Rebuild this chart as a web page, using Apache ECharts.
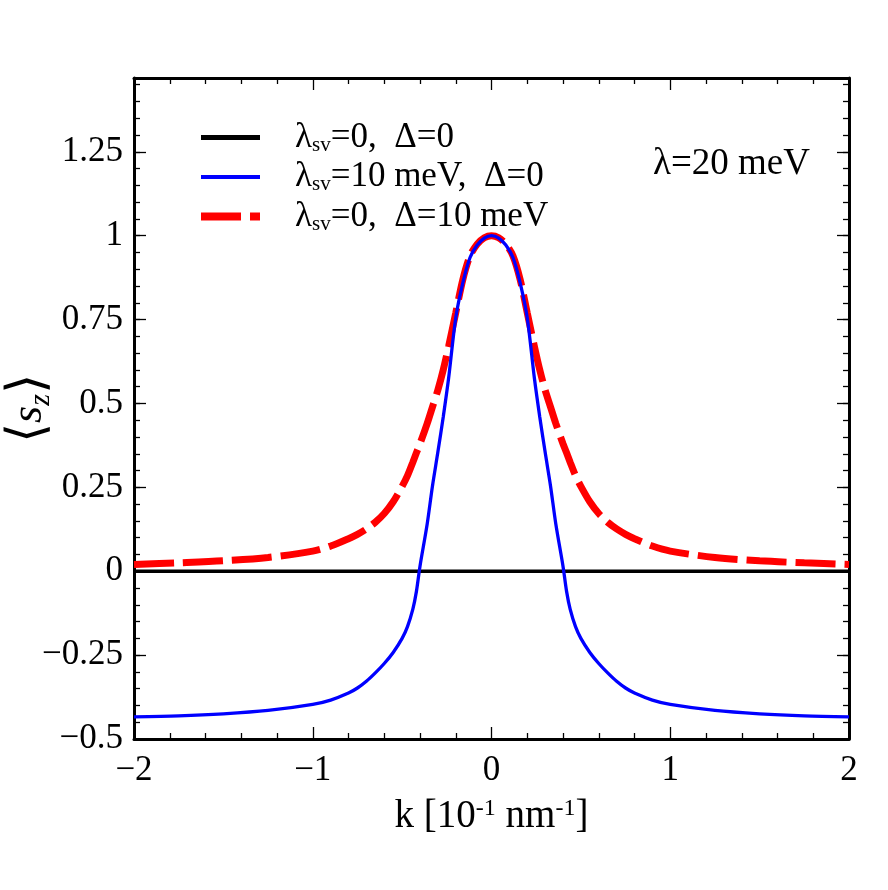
<!DOCTYPE html>
<html lang="en">
<head>
    <meta charset="UTF-8">
    <title>Spin polarization</title>
    <script src="https://cdn.jsdelivr.net/npm/echarts@6/dist/echarts.min.js"></script>
</head>
<body style="margin:0">
    <div id="main" style="width: 888px;height: 890px"></div>
    <script type="application/javascript">
        // k values, units of 10^-1 nm^-1
        var kVals = [-2, -1.75, -1.5, -1.25, -1, -0.9, -0.8, -0.75, -0.7, -0.65, -0.6, -0.55, -0.5, -0.47, -0.44, -0.42, -0.4, -0.36, -0.33, -0.3, -0.27, -0.24, -0.2, -0.16, -0.12, -0.08, -0.04, 0,
                     0.04, 0.08, 0.12, 0.16, 0.2, 0.24, 0.27, 0.3, 0.33, 0.36, 0.4, 0.42, 0.44, 0.47, 0.5, 0.55, 0.6, 0.65, 0.7, 0.75, 0.8, 0.9, 1, 1.25, 1.5, 1.75, 2];
        // lambda_sv = 0, Delta = 0
        var szZero = [0, 0, 0, 0, 0, 0, 0, 0, 0, 0, 0, 0, 0, 0, 0, 0, 0, 0, 0, 0, 0, 0, 0, 0, 0, 0, 0, 0,
                      0, 0, 0, 0, 0, 0, 0, 0, 0, 0, 0, 0, 0, 0, 0, 0, 0, 0, 0, 0, 0, 0, 0, 0, 0, 0, 0];
        // lambda_sv = 10 meV, Delta = 0
        var szSv = [-0.434, -0.431, -0.425, -0.415, -0.397, -0.384, -0.363, -0.348, -0.328, -0.303, -0.275, -0.242, -0.2, -0.165, -0.113, -0.06, 0.015, 0.14, 0.255, 0.355, 0.46, 0.575, 0.755, 0.86, 0.935, 0.972, 0.993, 1.0,
                    0.993, 0.972, 0.935, 0.86, 0.755, 0.575, 0.46, 0.355, 0.255, 0.14, 0.015, -0.06, -0.113, -0.165, -0.2, -0.242, -0.275, -0.303, -0.328, -0.348, -0.363, -0.384, -0.397, -0.415, -0.425, -0.431, -0.434];
        // lambda_sv = 0, Delta = 10 meV
        var szDelta = [0.02, 0.025, 0.031, 0.041, 0.06, 0.075, 0.097, 0.11, 0.126, 0.146, 0.172, 0.207, 0.253, 0.285, 0.325, 0.353, 0.38, 0.44, 0.49, 0.54, 0.6, 0.67, 0.77, 0.87, 0.94, 0.975, 0.994, 1.0,
                       0.994, 0.975, 0.94, 0.87, 0.77, 0.67, 0.6, 0.54, 0.49, 0.44, 0.38, 0.353, 0.325, 0.285, 0.253, 0.207, 0.172, 0.146, 0.126, 0.11, 0.097, 0.075, 0.06, 0.041, 0.031, 0.025, 0.02];
        var seriesNames = ['λsv=0,  Δ=0', 'λsv=10 meV,  Δ=0', 'λsv=0,  Δ=10 meV'];
        var yTicks = [-0.5, -0.25, 0, 0.25, 0.5, 0.75, 1, 1.25];

        var FONT = 'Liberation Serif';
        var myChart = echarts.init(document.getElementById("main"));

        function pairs(ys) {
            var out = [];
            for (var i = 0; i < kVals.length; i++) out.push([kVals[i], ys[i]]);
            return out;
        }
        function minus(s) { return String(s).replace('-', '\u2212'); }

        var yMin = -0.5, yMax = 1.47;

        function yAxisOf(pos, major, labels) {
            return {
                type: 'value', position: pos, min: yMin, max: yMax,
                interval: major ? 0.25 : 0.05,
                axisLine: { show: major, onZero: false, lineStyle: { color: '#000', width: 3 } },
                axisTick: { show: true, inside: true, length: major ? 12 : 6, lineStyle: { color: '#000', width: 1.3 } },
                axisLabel: {
                    show: labels, margin: 11, fontFamily: FONT, fontSize: 35, color: '#000',
                    formatter: function (v) {
                        for (var i = 0; i < yTicks.length; i++) {
                            if (Math.abs(v - yTicks[i]) < 1e-6) return minus(yTicks[i]);
                        }
                        return '';
                    }
                },
                splitLine: { show: false },
                name: labels ? '{b|\u27E8}{i|s}{z|z}{b|\u27E9}' : '',
                nameLocation: 'middle', nameRotate: 90, nameGap: 78, nameMoveOverlap: false,
                nameTextStyle: {
                    rich: {
                        b: { fontFamily: FONT, fontSize: 52, color: '#000', lineHeight: 54 },
                        i: { fontFamily: FONT, fontStyle: 'italic', fontSize: 44, color: '#000', lineHeight: 54 },
                        z: { fontFamily: FONT, fontStyle: 'italic', fontSize: 30, color: '#000', lineHeight: 30, verticalAlign: 'bottom' }
                    }
                }
            };
        }
        function xAxisOf(pos, labels) {
            return {
                type: 'value', position: pos, min: -2, max: 2, interval: 1,
                axisLine: { show: true, onZero: false, lineStyle: { color: '#000', width: 3 } },
                axisTick: { show: true, inside: true, length: 12, lineStyle: { color: '#000', width: 1.3 } },
                minorTick: { show: true, splitNumber: 5, length: 6, lineStyle: { color: '#000', width: 1.3 } },
                axisLabel: { show: labels, margin: 14, fontFamily: FONT, fontSize: 35, color: '#000', formatter: minus },
                splitLine: { show: false },
                name: labels ? '{a|k [10}{p|-1}{a| nm}{p|-1}{a|]}' : '',
                nameLocation: 'middle', nameGap: 58, nameMoveOverlap: false,
                nameTextStyle: {
                    rich: {
                        a: { fontFamily: FONT, fontSize: 39, color: '#000', lineHeight: 40 },
                        p: { fontFamily: FONT, fontSize: 24, color: '#000', lineHeight: 22, verticalAlign: 'top' }
                    }
                }
            };
        }

        var option = {
            backgroundColor: '#fff',
            animation: false,
            grid: { left: 134, right: 39, top: 78, bottom: 151, containLabel: false, outerBoundsMode: 'none' },
            legend: {
                orient: 'vertical', left: 197, top: 120, padding: 0,
                itemWidth: 59, itemHeight: 20, itemGap: 4,
                itemStyle: { opacity: 0 },
                data: [
                    { name: seriesNames[0], lineStyle: { width: 5 } },
                    { name: seriesNames[1], lineStyle: { width: 4 } },
                    { name: seriesNames[2], lineStyle: { width: 8 } }
                ],
                formatter: function (name) {
                    return '{l|λ}{s|sv}{a|' + name.slice(3) + '}';
                },
                textStyle: {
                    rich: {
                        l: { fontFamily: FONT, fontSize: 35, color: '#000', lineHeight: 36, padding: [0, 0, 0, 30] },
                        a: { fontFamily: FONT, fontSize: 35, color: '#000', lineHeight: 36 },
                        s: { fontFamily: FONT, fontSize: 21, color: '#000', lineHeight: 21, verticalAlign: 'bottom' }
                    }
                }
            },
            graphic: [{
                type: 'text', left: 653, top: 146,
                style: { text: 'λ=20 meV', font: '37px "Liberation Serif"', fill: '#000' }
            }],
            xAxis: [xAxisOf('bottom', true), xAxisOf('top', false)],
            yAxis: [yAxisOf('left', true, true), yAxisOf('left', false, false), yAxisOf('right', true, false), yAxisOf('right', false, false)],
            series: [
                {
                    name: seriesNames[0], type: 'line', symbol: 'none', data: pairs(szZero),
                    lineStyle: { color: '#000', width: 3.3 }, itemStyle: { color: '#000' }, z: 3
                },
                {
                    name: seriesNames[1], type: 'line', symbol: 'none', smooth: 0.3, data: pairs(szSv),
                    lineStyle: { color: '#0000ff', width: 3.3 }, itemStyle: { color: '#0000ff' }, z: 4
                },
                {
                    name: seriesNames[2], type: 'line', symbol: 'none', smooth: 0.3, data: pairs(szDelta),
                    lineStyle: { color: '#ff0000', width: 7, type: [40, 9] }, itemStyle: { color: '#ff0000' }, z: 2
                }
            ]
        };
        myChart.setOption(option, true);
    </script>
</body>
</html>
